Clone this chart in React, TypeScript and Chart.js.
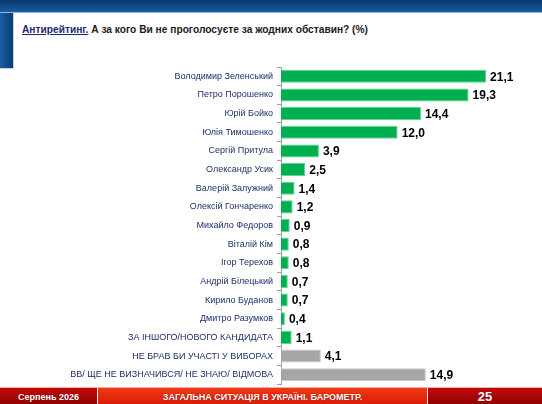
import React, { useEffect, useRef } from "react";
import { Chart, registerables } from "chart.js";

Chart.register(...registerables);

const categories: string[] = [
  "Володимир Зеленський",
  "Петро Порошенко",
  "Юрій Бойко",
  "Юлія Тимошенко",
  "Сергій Притула",
  "Олександр Усик",
  "Валерій Залужний",
  "Олексій Гончаренко",
  "Михайло Федоров",
  "Віталій Кім",
  "Ігор Терехов",
  "Андрій Білецький",
  "Кирило Буданов",
  "Дмитро Разумков",
  "ЗА ІНШОГО/НОВОГО КАНДИДАТА",
  "НЕ БРАВ БИ УЧАСТІ У ВИБОРАХ",
  "ВВ/ ЩЕ НЕ ВИЗНАЧИВСЯ/ НЕ ЗНАЮ/ ВІДМОВА",
];

const values: number[] = [21.1, 19.3, 14.4, 12.0, 3.9, 2.5, 1.4, 1.2, 0.9, 0.8, 0.8, 0.7, 0.7, 0.4, 1.1, 4.1, 14.9];

const grayCategories: string[] = ["НЕ БРАВ БИ УЧАСТІ У ВИБОРАХ", "ВВ/ ЩЕ НЕ ВИЗНАЧИВСЯ/ НЕ ЗНАЮ/ ВІДМОВА"];

const titleLead = "Антирейтинг.";
const titleRest = " А за кого Ви не проголосуєте за жодних обставин? (%)";
const footerLeft = "Серпень 2026";
const footerCenter = "ЗАГАЛЬНА СИТУАЦІЯ В УКРАЇНІ. БАРОМЕТР.";
const footerRight = "25";

const FONT = "'Liberation Sans', Arial, sans-serif";
const GREEN = "#00b050";
const GRAY = "#a6a6a6";

const valueLabels = {
  id: "valueLabels",
  afterDatasetsDraw(chart: any) {
    const ctx = chart.ctx;
    const meta = chart.getDatasetMeta(0);
    ctx.save();
    ctx.font = `bold 12px ${FONT}`;
    ctx.fillStyle = "#000000";
    ctx.textAlign = "left";
    ctx.textBaseline = "middle";
    meta.data.forEach((bar: any, i: number) => {
      const v = values[i];
      ctx.fillText(v.toFixed(1).replace(".", ","), bar.x + 4, bar.y + 1);
    });
    ctx.restore();
  },
};

function BarChart() {
  const ref = useRef<HTMLCanvasElement | null>(null);
  useEffect(() => {
    if (!ref.current) return;
    const colors = categories.map((c) => (grayCategories.includes(c) ? GRAY : GREEN));
    const borders = categories.map((c) => (grayCategories.includes(c) ? "#c8c8c8" : "#5fd38f"));
    const chart = new Chart(ref.current, {
      type: "bar",
      data: {
        labels: categories,
        datasets: [
          {
            data: values,
            backgroundColor: colors,
            borderColor: borders,
            borderWidth: 1,
            categoryPercentage: 1,
            barPercentage: 0.7,
          },
        ],
      },
      options: {
        indexAxis: "y",
        animation: false,
        responsive: false,
        maintainAspectRatio: false,
        layout: { padding: { top: 14, bottom: 14, left: 0, right: 18 } },
        plugins: { legend: { display: false }, tooltip: { enabled: false } },
        scales: {
          x: { display: false, min: 0, max: 25 },
          y: {
            afterFit: (scale: any) => {
              scale.width = 281;
            },
            border: { display: true, color: "#a0a0a0", width: 1 },
            grid: {
              display: true,
              drawOnChartArea: false,
              drawTicks: true,
              tickLength: 4,
              color: "#a0a0a0",
              offset: true,
            },
            ticks: {
              padding: 4,
              color: "#1f2f6b",
              font: { family: FONT, size: 9 },
              autoSkip: false,
            },
          },
        },
      },
      plugins: [valueLabels],
    });
    return () => chart.destroy();
  }, []);
  return <canvas ref={ref} width={542} height={345} style={{ position: "absolute", left: 0, top: 52.7 }} />;
}

export default function App() {
  return (
    <div
      style={{
        position: "absolute",
        left: 0,
        top: 0,
        width: 542,
        height: 404,
        background: "#ffffff",
        overflow: "hidden",
        fontFamily: FONT,
      }}
    >
      <div
        style={{
          position: "absolute",
          left: 0,
          top: 0,
          width: 542,
          height: 12,
          background: "linear-gradient(to bottom, #07396f, #1a5c9e)",
          borderBottom: "1px solid #8fb3d9",
        }}
      />
      <div
        style={{
          position: "absolute",
          left: 0,
          top: 13,
          width: 13,
          height: 55,
          background: "linear-gradient(to right, #1c5ea3, #0a3d75)",
          borderRight: "1px solid #c9d3df",
          borderBottom: "1px solid #c9d3df",
        }}
      />
      <div
        style={{
          position: "absolute",
          left: 22,
          top: 24,
          fontSize: 10.2,
          fontWeight: "bold",
          whiteSpace: "nowrap",
          color: "#1a1a1a",
        }}
      >
        <span style={{ color: "#1f2a6b", textDecoration: "underline" }}>{titleLead}</span>
        <span>{titleRest}</span>
      </div>
      <BarChart />
      <div
        style={{
          position: "absolute",
          left: 0,
          top: 387,
          width: 542,
          height: 17,
          borderTop: "1px solid #f3b0b0",
          display: "flex",
          color: "#ffffff",
          fontWeight: "bold",
          textShadow: "0 0 1px #600000",
        }}
      >
        <div
          style={{
            width: 97,
            background: "linear-gradient(to bottom, #c40a0a, #8e0000)",
            borderRight: "1px solid #ffffff",
            display: "flex",
            alignItems: "center",
            justifyContent: "center",
            fontSize: 9,
          }}
        >
          {footerLeft}
        </div>
        <div
          style={{
            width: 329,
            background: "linear-gradient(to bottom, #f03a14, #d81a08)",
            borderRight: "1px solid #ffffff",
            display: "flex",
            alignItems: "center",
            justifyContent: "center",
            fontSize: 9,
          }}
        >
          {footerCenter}
        </div>
        <div
          style={{
            flex: 1,
            background: "linear-gradient(to bottom, #c40a0a, #8e0000)",
            display: "flex",
            alignItems: "center",
            justifyContent: "center",
            fontSize: 13,
          }}
        >
          {footerRight}
        </div>
      </div>
    </div>
  );
}
